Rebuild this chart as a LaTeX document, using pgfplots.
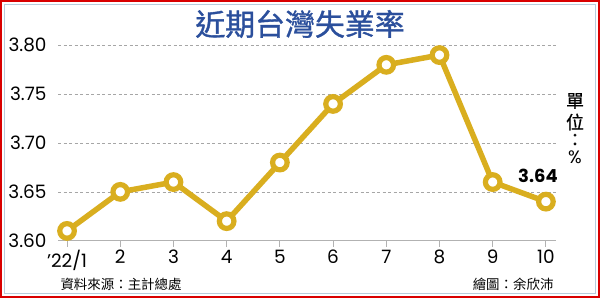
\documentclass[border=0pt]{standalone}
\usepackage{pgfplots}
\pgfplotsset{compat=1.18}
\usepackage{fontspec}
\setmainfont{Poppins}
\newfontfamily\cjk{Noto Sans CJK TC}
\newfontfamily\cjkt[FakeBold=1.2]{Noto Sans CJK TC}
\newfontfamily\cjku[FakeBold=0.8]{Noto Sans CJK TC}
\definecolor{gold}{HTML}{D9AE1F}
\definecolor{titleblue}{HTML}{2B4F9C}
\definecolor{bordblue}{HTML}{B8CCDC}
\begin{document}
\begin{tikzpicture}[x=1bp,y=1bp]
\fill[white] (0,0) rectangle (600,298);
\draw[red!85!black, line width=2bp] (1,1) rectangle (599,297);
\draw[bordblue, line width=1.2bp] (4.5,4.5) rectangle (595.5,293.5);
\begin{axis}[
  at={(58bp,57.3bp)}, anchor=south west,
  scale only axis, width=498bp, height=195.4bp,
  xmin=0.83, xmax=10.19, ymin=3.60, ymax=3.80,
  clip=false,
  axis x line*=bottom, axis y line*=left,
  y axis line style={draw=none},
  x axis line style={draw=gray!60, line width=1bp},
  xtick={1,...,10},
  xticklabels={'22/1,2,3,4,5,6,7,8,9,10},
  ytick={3.60,3.65,3.70,3.75,3.80},
  yticklabel style={xshift=-2bp, /pgf/number format/.cd, fixed, fixed zerofill, precision=2},
  /pgf/number format/assume math mode=true,
  ticklabel style={font=\fontsize{18.5}{18.5}\selectfont, text=black},
  xtick style={draw=gray!60, line width=1bp},
  ytick style={draw=none},
  tick align=outside, major tick length=6bp,
  ymajorgrids, grid style={gray!70, dash pattern=on 3bp off 2.5bp, line width=0.7bp},
]
\addplot[gold, line width=5.5bp, mark=*, mark size=7.3bp,
  mark options={fill=white, draw=gold, line width=5.2bp}]
  coordinates {(1,3.61) (2,3.65) (3,3.66) (4,3.62) (5,3.68) (6,3.74) (7,3.78) (8,3.79) (9,3.66) (10,3.64)};
\node[font=\fontsize{18}{18}\selectfont\bfseries] at (axis cs:9.85,3.666) {3.64};
\end{axis}
\node[font=\cjkt\fontsize{30}{30}\selectfont, text=titleblue] at (300,274) {近期台灣失業率};
\node[font=\cjk\fontsize{13.5}{13.5}\selectfont, anchor=west] at (57,14) {資料來源：主計總處};
\node[font=\cjk\fontsize{13.5}{13.5}\selectfont, anchor=east] at (557,14) {繪圖：余欣沛};
\node[font=\cjku\fontsize{18}{18}\selectfont] at (575,197) {單};
\node[font=\cjku\fontsize{18}{18}\selectfont] at (575,176) {位};
\node[font=\cjku\fontsize{18}{18}\selectfont] at (575,158) {：};
\node[font=\fontsize{18}{18}\selectfont] at (575,141) {\%};
\end{tikzpicture}
\end{document}
